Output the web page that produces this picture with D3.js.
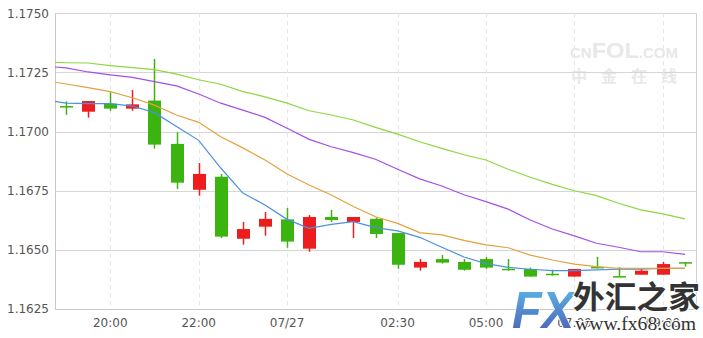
<!DOCTYPE html>
<html><head><meta charset="utf-8">
<script src="https://cdn.jsdelivr.net/npm/d3@7/dist/d3.min.js"></script>
<style>
html,body{margin:0;padding:0;background:#fff;}
svg{display:block;font-family:"DejaVu Sans",sans-serif;}
</style></head>
<body><svg id="c" width="703" height="338"></svg>
<script>
// ---- data ----
const categories = ["19:00","19:30","20:00","20:30","21:00","21:30","22:00","22:30","23:00","23:30","00:00","00:30","01:00","01:30","02:00","02:30","03:30","04:00","04:30","05:00","05:30","06:00","06:30","07:00","07:30","08:00","08:30","09:00","09:30"];
const tickCats = ["20:00","22:00","00:00","02:30","05:00","07:00","09:00"];
const tickNames = {"00:00":"07/27"};
const yTicks = [1.1625,1.1650,1.1675,1.1700,1.1725,1.1750];
const open  = [1.17108,1.17084,1.17118,1.17097,1.17131,1.16948,1.16754,1.16809,1.16547,1.16598,1.16629,1.16505,1.16639,1.16618,1.16631,1.16571,1.16425,1.16461,1.16449,1.16461,1.16420,1.16419,1.16399,1.16387,1.16428,1.16389,1.16395,1.16395,1.16448];
const high  = [1.17128,1.17129,1.17166,1.17176,1.17307,1.16997,1.16867,1.16821,1.16618,1.16660,1.16677,1.16647,1.16669,1.16639,1.16638,1.16571,1.16461,1.16478,1.16461,1.16470,1.16461,1.16425,1.16416,1.16419,1.16470,1.16427,1.16422,1.16449,1.16448];
const low   = [1.17071,1.17059,1.17088,1.17088,1.16928,1.16757,1.16729,1.16550,1.16522,1.16560,1.16509,1.16492,1.16618,1.16550,1.16550,1.16420,1.16412,1.16442,1.16412,1.16420,1.16412,1.16387,1.16391,1.16387,1.16422,1.16387,1.16395,1.16395,1.16429];
const close = [1.17106,1.17129,1.17097,1.17115,1.16945,1.16784,1.16821,1.16556,1.16588,1.16631,1.16535,1.16639,1.16626,1.16639,1.16567,1.16437,1.16449,1.16446,1.16416,1.16425,1.16418,1.16387,1.16397,1.16419,1.16426,1.16388,1.16412,1.16440,1.16447];
// moving averages: first value belongs to the bar just before the visible window
const ma5  = [1.17136,1.17120,1.17118,1.17118,1.17108,1.17080,1.17021,1.16963,1.16846,1.16740,1.16690,1.16629,1.16591,1.16608,1.16619,1.16594,1.16580,1.16553,1.16511,1.16470,1.16442,1.16426,1.16418,1.16412,1.16412,1.16415,1.16418,1.16418,1.16422,1.16422];
const ma10 = [1.17216,1.17201,1.17186,1.17169,1.17143,1.17112,1.17070,1.17039,1.16978,1.16931,1.16880,1.16821,1.16774,1.16732,1.16683,1.16640,1.16612,1.16573,1.16563,1.16540,1.16521,1.16509,1.16478,1.16457,1.16440,1.16429,1.16422,1.16422,1.16422,1.16422];
const ma20 = [1.17277,1.17269,1.17252,1.17240,1.17229,1.17211,1.17193,1.17159,1.17120,1.17091,1.17060,1.17014,1.16967,1.16936,1.16911,1.16883,1.16841,1.16800,1.16770,1.16733,1.16704,1.16672,1.16626,1.16588,1.16559,1.16528,1.16511,1.16492,1.16492,1.16481];
const ma30 = [1.17294,1.17291,1.17290,1.17279,1.17270,1.17262,1.17243,1.17219,1.17200,1.17169,1.17147,1.17120,1.17088,1.17070,1.17049,1.17018,1.16989,1.16957,1.16929,1.16902,1.16880,1.16841,1.16807,1.16777,1.16750,1.16729,1.16697,1.16669,1.16652,1.16631];
const maColors = ["#4a90e2","#e3a23e","#a64fe6","#8fd640"];

// ---- layout ----
const L=55, R=696, T=13.3, B=309;
const svg=d3.select("#c");
const x=d3.scaleBand().domain(categories).range([L,R]).padding(0);
const y=d3.scaleLinear().domain([1.1625,1.1750]).range([B,T]);
const cx=c=>x(c)+x.bandwidth()/2;

// watermark cnfol
const wm=svg.append("g").attr("fill","#e8e8e8").attr("font-family","Arial,'Liberation Sans',sans-serif").attr("font-weight","bold");
const t1=wm.append("text").attr("x",570).attr("y",58).attr("textLength",108).attr("lengthAdjust","spacingAndGlyphs");
t1.append("tspan").attr("font-size",14).text("CN");
t1.append("tspan").attr("font-size",22).text("FOL");
t1.append("tspan").attr("font-size",14).text(".COM");
wm.append("text").attr("x",624).attr("y",82).attr("text-anchor","middle").attr("font-size",16).attr("font-family","'Noto Sans CJK SC'").attr("textLength",106).text("中金在线");

// grid
svg.append("g").selectAll("line").data(yTicks).join("line")
 .attr("x1",L).attr("x2",R).attr("y1",d=>Math.round(y(d))+0.5).attr("y2",d=>Math.round(y(d))+0.5)
 .attr("stroke","#d6d6d6");
svg.append("g").selectAll("line").data(tickCats).join("line")
 .attr("x1",d=>Math.round(cx(d))+0.5).attr("x2",d=>Math.round(cx(d))+0.5).attr("y1",T).attr("y2",B)
 .attr("stroke","#e6e6e6").attr("stroke-dasharray","4,4");
svg.append("line").attr("x1",R+0.5).attr("x2",R+0.5).attr("y1",T).attr("y2",B).attr("stroke","#d0d0d0");

// axes
const yAx=svg.append("g").attr("transform",`translate(${L},0)`)
 .call(d3.axisLeft(y).tickValues(yTicks).tickFormat(d3.format(".4f")).tickSize(0).tickPadding(6));
yAx.select(".domain").attr("stroke","#c8c8c8");
const xAx=svg.append("g").attr("transform",`translate(0,${B})`)
 .call(d3.axisBottom(x).tickValues(tickCats).tickFormat(d=>tickNames[d]||d).tickSize(0).tickPadding(9));
xAx.select(".domain").attr("stroke","#c8c8c8");
svg.selectAll(".tick text").attr("fill","#555").attr("font-size",12).attr("font-family","'DejaVu Sans',sans-serif");

// clip
svg.append("clipPath").attr("id","clip").append("rect").attr("x",L).attr("y",T).attr("width",R-L).attr("height",B-T);

// candles
const idx=d3.range(categories.length);
const bw=13;
const col=i=>close[i]>open[i]?"#ee1d1d":"#3bb40f";
const cg=svg.append("g");
cg.selectAll("line").data(idx).join("line")
 .attr("x1",i=>Math.round(cx(categories[i]))+0.5).attr("x2",i=>Math.round(cx(categories[i]))+0.5)
 .attr("y1",i=>y(high[i])).attr("y2",i=>y(low[i]))
 .attr("stroke",col).attr("stroke-width",1.5);
cg.selectAll("rect").data(idx).join("rect")
 .attr("x",i=>Math.round(cx(categories[i]))+0.5-bw/2)
 .attr("y",i=>y(Math.max(open[i],close[i])))
 .attr("width",bw)
 .attr("height",i=>Math.max(1.5,Math.abs(y(open[i])-y(close[i]))))
 .attr("fill",col);

// moving averages
const mx=j=>j===0?cx(categories[0])-x.step():cx(categories[j-1]);
const lg=svg.append("g").attr("clip-path","url(#clip)");
[ma5,ma10,ma20,ma30].forEach((arr,k)=>{
 lg.append("path").datum(arr).attr("fill","none").attr("stroke",maColors[k]).attr("stroke-width",1.2)
  .attr("d",d3.line().x((d,j)=>mx(j)).y(d=>y(d)));
});

// FX68 logo watermark
const defs=svg.append("defs");
const gr=defs.append("linearGradient").attr("id","fxg").attr("x1",0).attr("y1",0).attr("x2",0).attr("y2",1);
gr.append("stop").attr("offset","0%").attr("stop-color","#5cc0ee");
gr.append("stop").attr("offset","100%").attr("stop-color","#4a58b0");
const lg2=svg.append("g");
lg2.append("text").attr("x",512).attr("y",328).attr("font-size",52).attr("font-weight","bold").attr("font-style","italic")
 .attr("font-family","'Liberation Sans',Arial,sans-serif").attr("fill","url(#fxg)").attr("stroke","#fff").attr("stroke-width",1.5)
 .attr("paint-order","stroke").attr("textLength",62).attr("lengthAdjust","spacingAndGlyphs").text("FX");
lg2.append("text").attr("x",573).attr("y",308).attr("font-size",31).attr("font-weight","bold")
 .attr("font-family","'Noto Sans CJK SC',sans-serif").attr("fill","#333").attr("stroke","#fff").attr("stroke-width",2)
 .attr("paint-order","stroke").attr("textLength",127).attr("lengthAdjust","spacingAndGlyphs").text("外汇之家");
lg2.append("text").attr("x",575).attr("y",330).attr("font-size",18)
 .attr("font-family","'Liberation Serif','DejaVu Serif',serif").attr("fill","#333").attr("stroke","#fff").attr("stroke-width",2)
 .attr("paint-order","stroke").attr("textLength",121).attr("lengthAdjust","spacingAndGlyphs").text("www.fx68.com");
</script></body></html>
